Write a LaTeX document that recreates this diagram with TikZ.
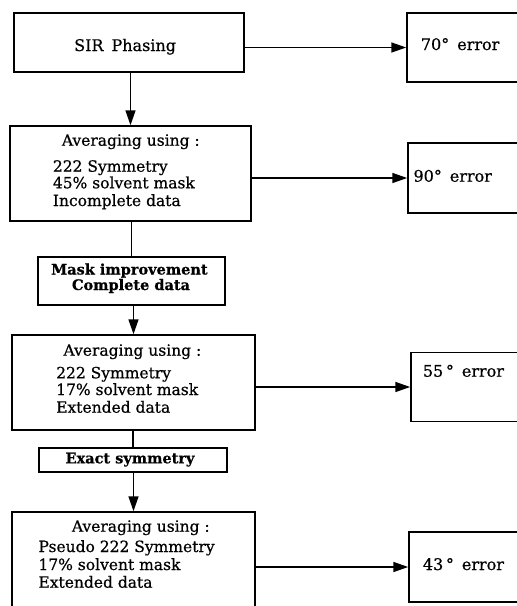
\documentclass[tikz,border=0pt]{standalone}
\usepackage{fontspec}
\setmainfont{DejaVu Serif}[FakeBold=0.6]
\usetikzlibrary{arrows.meta}

\tikzset{
  box/.style={draw, line width=1.5pt, rectangle, inner sep=0pt, minimum width=#1},
  box/.default=100pt,
  txt/.style={inner sep=0pt, anchor=base west, font=\fontsize{15.5}{17}\selectfont},
  bigtxt/.style={inner sep=0pt, anchor=base west, font=\fontsize{16}{18}\selectfont},
  boldtxt/.style={inner sep=0pt, anchor=base, font=\bfseries\fontsize{14.5}{17}\selectfont},
  link/.style={line width=1.5pt},
  flow/.style={line width=1.5pt, -{Triangle[length=15pt,width=10pt]}},
}

\begin{document}
\begin{tikzpicture}[x=1pt,y=-1pt]
\useasboundingbox (0,0) rectangle (517,606);
\clip (0,0) rectangle (517,606);

% main column
\node[box=230pt, minimum height=59pt] (b1) at (129,42.5) {};
\node[box=241pt, minimum height=95pt] (b2) at (130.5,173.5) {};
\node[box=187pt, minimum height=48pt] (m1) at (131.5,281) {};
\node[box=243pt, minimum height=95pt] (b3) at (133.5,382.5) {};
\node[box=188pt, minimum height=24pt] (m2) at (133,460) {};
\node[box=243pt, minimum height=98pt] (b4) at (133.5,561) {};

% error boxes on the right
\node[box=133pt, minimum height=69pt] (e1) at (473.5,47.5) {};
\node[box=132pt, minimum height=70pt] (e2) at (474,178) {};
\node[box=129pt, minimum height=69pt] (e3) at (475.5,387) {};
\node[box=131pt, minimum height=70pt] (e4) at (474.5,567) {};

% texts
\node[bigtxt] (t1) at (74,51) {SIR\enspace Phasing};

\node[txt] (h2) at (61.7,145.7) {Averaging using :};
\node[txt] (l2a) at (52.7,171.7) {222 Symmetry};
\node[txt] (l2b) at (52.7,188.3) {45\% solvent mask};
\node[txt] (l2c) at (52.7,206) {Incomplete data};

\node[boldtxt] (m1a) at (129.4,274.5) {Mask improvement};
\node[boldtxt] (m1b) at (131,290) {Complete data};

\node[txt] (h3) at (63.3,355.7) {Averaging using :};
\node[txt] (l3a) at (56,378.3) {222 Symmetry};
\node[txt] (l3b) at (56,395) {17\% solvent mask};
\node[txt] (l3c) at (56,412.7) {Extended data};

\node[boldtxt] (m2a) at (130,463.3) {Exact symmetry};

\node[txt] (h4) at (71.7,531.7) {Averaging using :};
\node[txt] (l4a) at (38.3,552) {Pseudo 222 Symmetry};
\node[txt] (l4b) at (38.3,570) {17\% solvent mask};
\node[txt] (l4c) at (38.3,587.7) {Extended data};

\node[bigtxt] (r1) at (420.7,50) {70°\enspace error};
\node[bigtxt] (r2) at (413.3,181.7) {90°\enspace error};
\node[bigtxt] (r3) at (422.7,376.7) {55\,°\enspace error};
\node[bigtxt] (r4) at (422.7,570) {43\,°\enspace error};

% connectors
\draw[flow] (b1.east |- e1.west) -- (e1.west);
\draw[flow] (b2.east |- e2.west) -- (e2.west);
\draw[flow] (b3.east |- e3.west) -- (e3.west);
\draw[flow] (b4.east |- e4.west) -- (e4.west);

\draw[flow] (b1.south -| b2.north) -- (b2.north);
\draw[link] (b2.south -| m1.north) -- (m1.north);
\draw[flow] (m1.south -| b3.north) -- (b3.north);
\draw[link] (b3.south -| m2.north) -- (m2.north);
\draw[flow] (m2.south -| b4.north) -- (b4.north);
\end{tikzpicture}
\end{document}
